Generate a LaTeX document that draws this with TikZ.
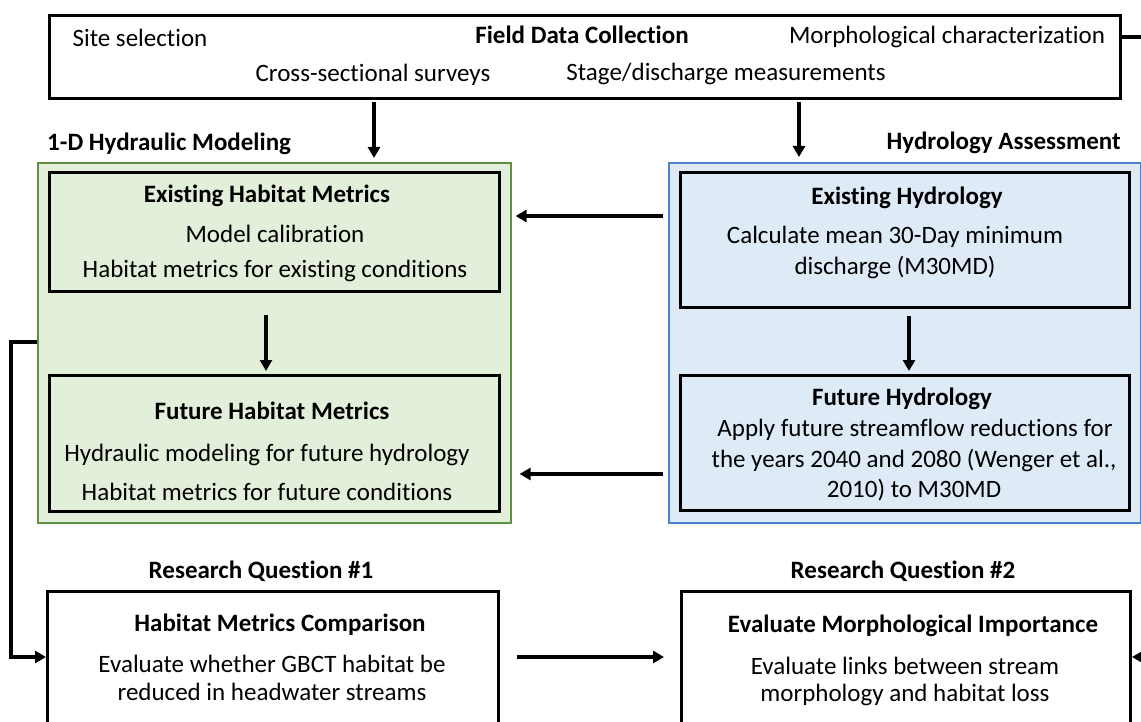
\documentclass[tikz,border=0pt]{standalone}
\usepackage{fontspec}
\setmainfont{Carlito}[Ligatures=NoCommon]
\usetikzlibrary{arrows.meta,calc}
\definecolor{gfill}{HTML}{E2EFDA}
\definecolor{gline}{HTML}{609140}
\definecolor{bfill}{HTML}{DEEBF7}
\definecolor{bline}{HTML}{4A82CC}
\tikzset{
  box/.style={draw=black, line width=3pt, inner sep=0pt, anchor=north west},
  gcontainer/.style={draw=gline, fill=gfill, line width=1.6pt, inner sep=0pt, anchor=north west},
  bcontainer/.style={draw=bline, fill=bfill, line width=1.6pt, inner sep=0pt, anchor=north west},
  txt/.style={font=\fontsize{25}{30}\selectfont, inner sep=0pt, anchor=center},
  btxt/.style={font=\fontsize{25}{30}\selectfont\bfseries, inner sep=0pt, anchor=center},
  arr/.style={line width=3.2pt, -{Triangle[length=11pt,width=12pt]}}
}
\begin{document}
\begin{tikzpicture}[x=1pt,y=-1pt]
\useasboundingbox (0,0) rectangle (1141,722);
\clip (0,0) rectangle (1141,722);
\fill[white] (0,0) rectangle (1141,722);

% containers
\node[gcontainer, minimum width=473pt, minimum height=360pt] (gcont) at (37,162) {};
\node[bcontainer, minimum width=472pt, minimum height=360pt] (bcont) at (668,162) {};

% boxes
\node[box, minimum width=1071pt, minimum height=83pt] (top) at (48,14) {};
\node[box, minimum width=450pt, minimum height=119pt] (g1) at (48,171) {};
\node[box, minimum width=450pt, minimum height=136pt] (g2) at (48,374) {};
\node[box, minimum width=449pt, minimum height=135pt] (b1) at (679,171) {};
\node[box, minimum width=449pt, minimum height=135pt] (b2) at (679,374) {};
\node[box, minimum width=451pt, minimum height=170pt] (q1) at (46,590) {};
\node[box, minimum width=449pt, minimum height=170pt] (q2) at (680,590) {};

% top box text
\node[txt] (t1) at (140,38) {Site selection};
\node[btxt] (t2) at (582,35) {Field Data Collection};
\node[txt] (t3) at (947,37) {Morphological characterization};
\node[txt] (t4) at (373,75) {Cross-sectional surveys};
\node[txt] (t5) at (726,74) {Stage/discharge measurements};

% section labels
\node[btxt, anchor=west] (lh) at (47,144) {1-D Hydraulic Modeling};
\node[btxt, anchor=east] (lb) at (1121,143) {Hydrology Assessment};

% green boxes text
\node[btxt] (g1a) at (267,196) {Existing Habitat Metrics};
\node[txt] (g1b) at (275,234) {Model calibration};
\node[txt] (g1c) at (275,271) {Habitat metrics for existing conditions};
\node[btxt] (g2a) at (272,411) {Future Habitat Metrics};
\node[txt] (g2b) at (267,455) {Hydraulic modeling for future hydrology};
\node[txt] (g2c) at (267,492) {Habitat metrics for future conditions};

% blue boxes text
\node[btxt] (b1a) at (907,198) {Existing Hydrology};
\node[txt] (b1b) at (895,237) {Calculate mean 30-Day minimum};
\node[txt] (b1c) at (895,268) {discharge (M30MD)};
\node[btxt] (b2a) at (902,399) {Future Hydrology};
\node[txt] (b2b) at (915,430) {Apply future streamflow reductions for};
\node[txt] (b2c) at (914,461) {the years 2040 and 2080 (Wenger et al.,};
\node[txt] (b2d) at (914,490) {2010) to M30MD};

% research questions
\node[btxt] (rq1) at (261,571) {Research Question \#1};
\node[btxt] (rq2) at (903,571) {Research Question \#2};
\node[btxt] (q1a) at (280,625) {Habitat Metrics Comparison};
\node[txt] (q1b) at (272,664) {Evaluate whether GBCT habitat be};
\node[txt] (q1c) at (272,692) {reduced in headwater streams};
\node[btxt] (q2a) at (913,626) {Evaluate Morphological Importance};
\node[txt] (q2b) at (905,666) {Evaluate links between stream};
\node[txt] (q2c) at (905,695) {morphology and habitat loss};

% helper coordinates
\coordinate (lx) at (11,342);
\coordinate (rt) at (1160,37);
\coordinate (rb) at (1160,657);

% arrows
\draw[arr, shorten <=2pt, shorten >=4pt] (top.south -| 374,0) -- (gcont.north -| 374,0);
\draw[arr, shorten <=2pt, shorten >=5pt] (top.south -| 799,0) -- (bcont.north -| 799,0);
\draw[arr, shorten <=5pt, shorten >=4pt] (bcont.west |- 0,216) -- (gcont.east |- 0,216);
\draw[arr, shorten <=5pt, shorten >=8pt] (bcont.west |- 0,474) -- (gcont.east |- 0,474);
\draw[arr, shorten <=22pt, shorten >=3pt] (g1.south -| 266,0) -- (g2.north -| 266,0);
\draw[arr, shorten <=7pt, shorten >=3pt] (b1.south -| 909,0) -- (b2.north -| 909,0);
\draw[arr, shorten <=17pt, shorten >=16pt] (q1.east |- 0,657) -- (q2.west |- 0,657);
\draw[arr] (gcont.west |- lx) -- (lx) |- (q1.west |- 0,657);
\draw[arr] (top.east |- rt) -- (rt) |- (q2.east |- rb);
\end{tikzpicture}
\end{document}
